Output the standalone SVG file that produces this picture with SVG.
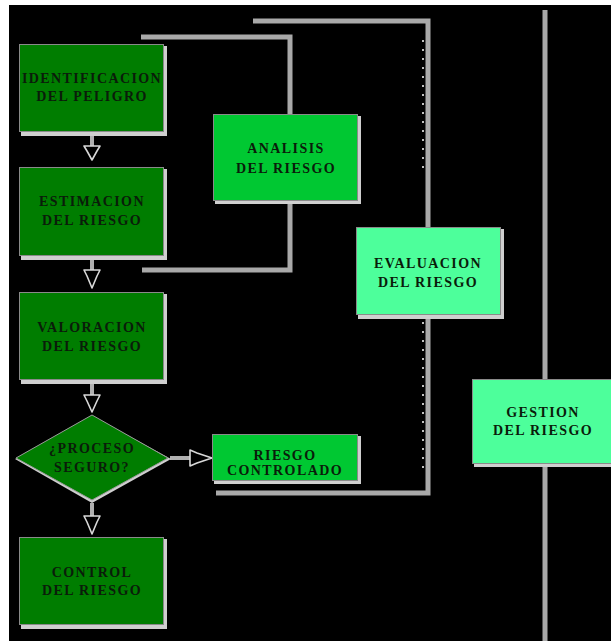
<svg xmlns="http://www.w3.org/2000/svg" width="611" height="641" viewBox="0 0 611 641">
<defs>
<style>
.t{font-family:"Liberation Serif","DejaVu Serif",serif;font-weight:bold;font-size:14px;fill:#0a1c0a;text-anchor:middle;letter-spacing:1.4px}
.sh{fill:#cfcfcf}
.dk{fill:#007d00;stroke:#8a8a8a;stroke-width:1}
.md{fill:#00c832;stroke:#8a8a8a;stroke-width:1}
.lt{fill:#4dff9b;stroke:#8a8a8a;stroke-width:1}
.ln{fill:none;stroke:#a9a9a9;stroke-width:5;stroke-linecap:butt;stroke-linejoin:miter}
.dot{fill:none;stroke:#ffffff;stroke-width:1.5;stroke-dasharray:2 7}
.ah{fill:#000;stroke:#d8d8d8;stroke-width:1.6;stroke-linejoin:round}
.st{stroke:#b0b0b0;stroke-width:4}
</style>
</defs>
<rect x="0" y="0" width="611" height="641" fill="#ffffff"/>
<rect x="9" y="5" width="602" height="636" fill="#000000"/>

<g id="connectors">
  <polyline class="ln" points="141,37 290,37 290,115"/>
  <polyline class="ln" points="290,202 290,270 142,270"/>
  <polyline class="ln" points="253,21 428,21 428,228"/>
  <polyline class="ln" points="428,317 428,493 216,493"/>
  <line class="dot" x1="423" y1="40" x2="423" y2="170"/>
  <line class="dot" x1="423" y1="322" x2="423" y2="475"/>
  <line class="ln" x1="545" y1="10" x2="545" y2="380"/>
  <line class="ln" x1="545" y1="465" x2="545" y2="641"/>
  <line class="st" x1="92" y1="134" x2="92" y2="146"/>
  <polygon class="ah" points="84,146 100,146 97,151 92,160 87,151"/>
  <line class="st" x1="92" y1="259" x2="92" y2="270"/>
  <polygon class="ah" points="84,270 100,270 97,276 92,288 87,276"/>
  <line class="st" x1="92" y1="383" x2="92" y2="395"/>
  <polygon class="ah" points="84,395 100,395 97,401 92,412 87,401"/>
  <line class="st" x1="92" y1="503" x2="92" y2="516"/>
  <polygon class="ah" points="84,516 100,516 97,522 92,534 87,522"/>
  <line class="st" x1="170" y1="458" x2="192" y2="458"/>
  <polygon class="ah" points="190,450 190,466 197,463 212,458 197,453"/>
</g>

<g id="identificacion">
  <rect class="sh" x="21" y="46" width="146" height="90"/>
  <rect class="dk" x="19.5" y="44.5" width="144" height="87"/>
  <text class="t" x="92" y="83">IDENTIFICACION</text>
  <text class="t" x="92" y="101">DEL PELIGRO</text>
</g>
<g id="estimacion">
  <rect class="sh" x="21" y="169" width="146" height="91"/>
  <rect class="dk" x="19.5" y="167.5" width="144" height="88"/>
  <text class="t" x="92" y="206">ESTIMACION</text>
  <text class="t" x="92" y="225">DEL RIESGO</text>
</g>
<g id="valoracion">
  <rect class="sh" x="21" y="294" width="146" height="90"/>
  <rect class="dk" x="19.5" y="292.5" width="144" height="87"/>
  <text class="t" x="92" y="332">VALORACION</text>
  <text class="t" x="92" y="351">DEL RIESGO</text>
</g>
<g id="proceso-seguro">
  <polygon points="92,416 171,459 92,503 15,459" fill="#cfcfcf"/>
  <polygon points="92,415 168,458 92,500 16,458" fill="#007d00" stroke="#9a9a9a" stroke-width="1"/>
  <text class="t" x="92" y="453">¿PROCESO</text>
  <text class="t" x="92" y="472">SEGURO?</text>
</g>
<g id="control">
  <rect class="sh" x="21" y="539" width="146" height="90"/>
  <rect class="dk" x="19.5" y="537.5" width="144" height="87"/>
  <text class="t" x="92" y="577">CONTROL</text>
  <text class="t" x="92" y="595">DEL RIESGO</text>
</g>
<g id="analisis">
  <rect class="sh" x="215" y="116" width="146" height="88"/>
  <rect class="md" x="213.5" y="114.5" width="144" height="86"/>
  <text class="t" x="286" y="153">ANALISIS</text>
  <text class="t" x="286" y="173">DEL RIESGO</text>
</g>
<g id="riesgo-controlado">
  <rect class="sh" x="214" y="436" width="147" height="48"/>
  <rect class="md" x="212.5" y="434.5" width="145" height="46"/>
  <text class="t" x="285" y="460">RIESGO</text>
  <text class="t" x="285" y="475">CONTROLADO</text>
</g>
<g id="evaluacion">
  <rect class="sh" x="358" y="229" width="146" height="90"/>
  <rect class="lt" x="356.5" y="227.5" width="144" height="87"/>
  <text class="t" x="428" y="268">EVALUACION</text>
  <text class="t" x="428" y="287">DEL RIESGO</text>
</g>
<g id="gestion">
  <rect class="sh" x="474" y="381" width="140" height="86"/>
  <rect class="lt" x="472.5" y="379.5" width="142" height="84"/>
  <text class="t" x="543" y="417">GESTION</text>
  <text class="t" x="543" y="435">DEL RIESGO</text>
</g>
</svg>
